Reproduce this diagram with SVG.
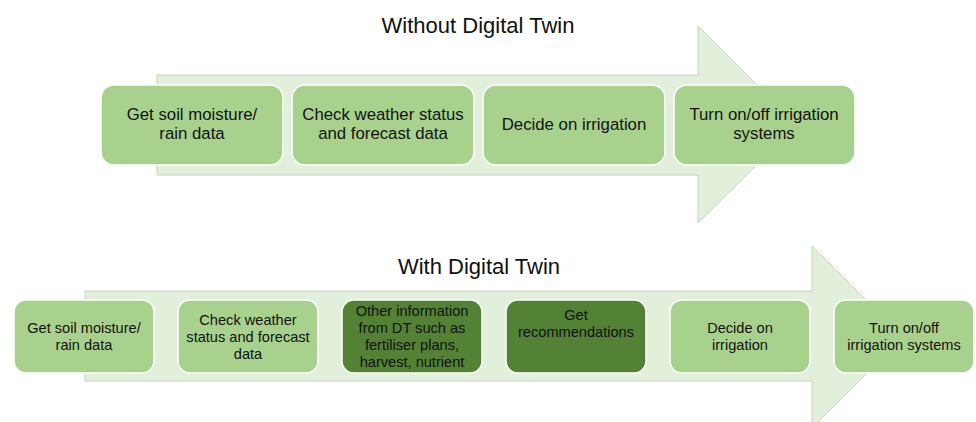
<svg xmlns="http://www.w3.org/2000/svg" width="976" height="422" viewBox="0 0 976 422">
<style>
.arrow{fill:#E2EFDA;stroke:#C8D0C2;stroke-width:1}
.box{fill:#A9D18E;stroke:#FFFFFF;stroke-width:1.5}
.dark{fill:#548235;stroke:#FFFFFF;stroke-width:1.5}
.t{font-family:"Liberation Sans",Arial,sans-serif;fill:#111;text-anchor:middle}
.title{font-family:"Liberation Sans",Arial,sans-serif;font-size:22px;fill:#111;text-anchor:middle}
.l{font-size:16.8px}
.s{font-size:14.6px}
</style>
<rect width="976" height="422" fill="#FFFFFF"/>
<g id="connectors">
<polygon class="arrow" points="157,75 698,75 698,26 797,125 698,223 698,175 157,175"/>
<polygon class="arrow" points="85,291 812,291 812,246 903,337 812,428 812,381 85,381"/>
</g>
<text id="title-without" class="title" x="478" y="33">Without Digital Twin</text>
<text id="title-with" class="title" x="479" y="274">With Digital Twin</text>
<g id="top1"><rect class="box" x="101" y="85" width="182" height="80" rx="13"/>
<text class="t l" x="192" y="120">Get soil moisture/</text><text class="t l" x="192" y="139">rain data</text></g>
<g id="top2"><rect class="box" x="292" y="85" width="182" height="80" rx="13"/>
<text class="t l" x="383" y="120">Check weather status</text><text class="t l" x="383" y="139">and forecast data</text></g>
<g id="top3"><rect class="box" x="483" y="85" width="182" height="80" rx="13"/>
<text class="t l" x="574" y="130">Decide on irrigation</text></g>
<g id="top4"><rect class="box" x="674" y="85" width="181" height="80" rx="13"/>
<text class="t l" x="764" y="120">Turn on/off irrigation</text><text class="t l" x="764" y="139">systems</text></g>
<g id="b1"><rect class="box" x="14" y="300" width="140" height="73" rx="12"/>
<text class="t s" x="84" y="333">Get soil moisture/</text><text class="t s" x="84" y="350">rain data</text></g>
<g id="b2"><rect class="box" x="178" y="300" width="140" height="73" rx="12"/>
<text class="t s" x="248" y="325">Check weather</text><text class="t s" x="248" y="342">status and forecast</text><text class="t s" x="248" y="359">data</text></g>
<g id="b3"><rect class="dark" x="342" y="300" width="140" height="73" rx="12"/>
<text class="t s" x="412" y="316">Other information</text><text class="t s" x="412" y="333">from DT such as</text><text class="t s" x="412" y="350">fertiliser plans,</text><text class="t s" x="412" y="367">harvest, nutrient</text></g>
<g id="b4"><rect class="dark" x="506" y="300" width="140" height="73" rx="12"/>
<text class="t s" x="576" y="320">Get</text><text class="t s" x="576" y="337">recommendations</text></g>
<g id="b5"><rect class="box" x="670" y="300" width="140" height="73" rx="12"/>
<text class="t s" x="740" y="333">Decide on</text><text class="t s" x="740" y="350">irrigation</text></g>
<g id="b6"><rect class="box" x="834" y="300" width="140" height="73" rx="12"/>
<text class="t s" x="904" y="333">Turn on/off</text><text class="t s" x="904" y="350">irrigation systems</text></g>
</svg>
